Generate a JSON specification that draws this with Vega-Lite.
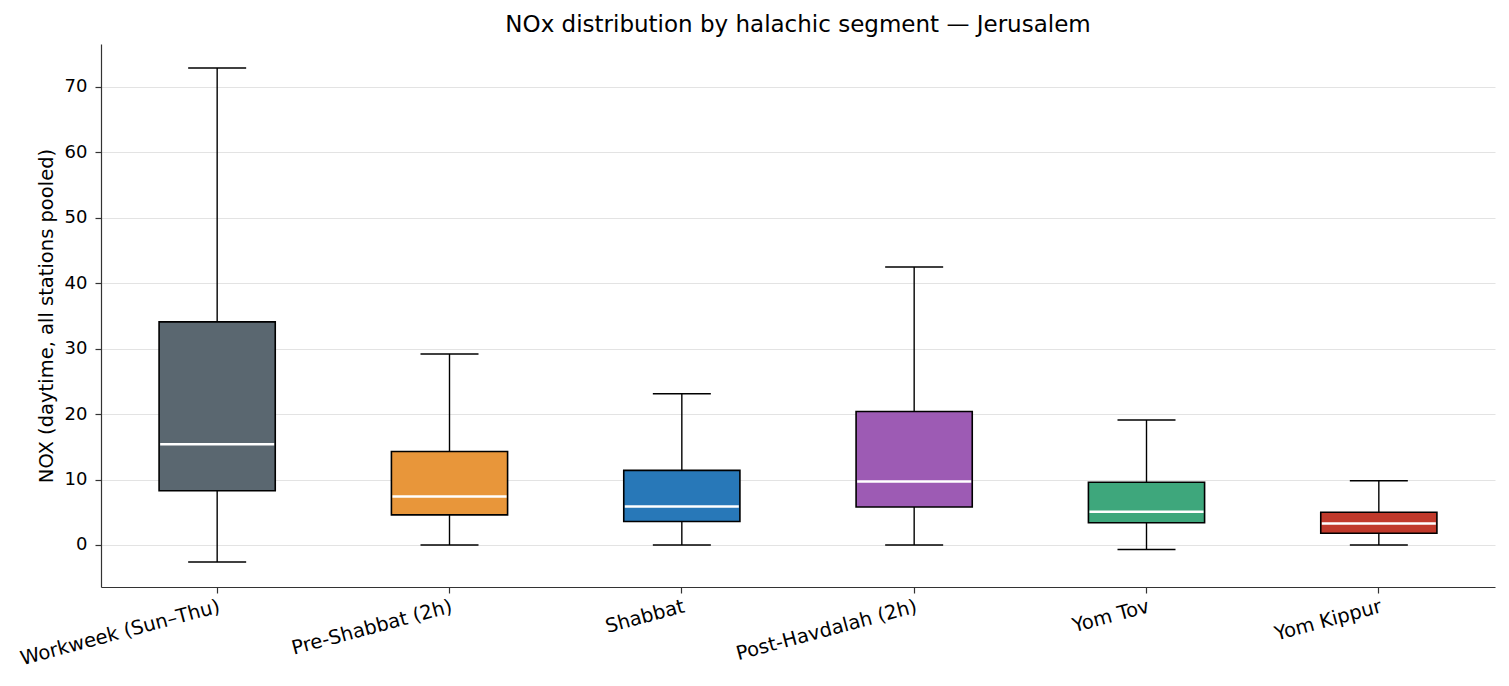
{
  "$schema": "https://vega.github.io/schema/vega-lite/v6.json",
  "autosize": "none",
  "width": 1394,
  "height": 543,
  "padding": {"left": 101, "top": 44, "right": 14, "bottom": 99},
  "background": "white",
  "title": {
    "text": "NOx distribution by halachic segment — Jerusalem",
    "font": "DejaVu Sans",
    "fontSize": 23,
    "fontWeight": "normal",
    "color": "#000000",
    "anchor": "middle",
    "offset": 7
  },
  "config": {
    "font": "DejaVu Sans",
    "view": {"stroke": null},
    "axis": {
      "labelFont": "DejaVu Sans",
      "titleFont": "DejaVu Sans",
      "labelFontSize": 19,
      "titleFontSize": 19.5,
      "labelColor": "#000000",
      "titleColor": "#000000",
      "titleFontWeight": "normal",
      "labelLimit": 0,
      "domainColor": "#333333",
      "domainWidth": 1.2,
      "tickColor": "#333333",
      "tickSize": 6,
      "tickWidth": 1.2
    }
  },
  "data": {
    "values": [
      {"segment": "Workweek (Sun–Thu)", "lo": -2.6, "q1": 8.3, "median": 15.4, "q3": 34.1, "hi": 72.9},
      {"segment": "Pre-Shabbat (2h)", "lo": 0.0, "q1": 4.6, "median": 7.4, "q3": 14.3, "hi": 29.2},
      {"segment": "Shabbat", "lo": 0.0, "q1": 3.6, "median": 5.9, "q3": 11.4, "hi": 23.1},
      {"segment": "Post-Havdalah (2h)", "lo": 0.0, "q1": 5.8, "median": 9.7, "q3": 20.4, "hi": 42.5},
      {"segment": "Yom Tov", "lo": -0.7, "q1": 3.4, "median": 5.1, "q3": 9.6, "hi": 19.1},
      {"segment": "Yom Kippur", "lo": 0.0, "q1": 1.8, "median": 3.3, "q3": 5.0, "hi": 9.8}
    ]
  },
  "encoding": {
    "x": {
      "field": "segment",
      "type": "nominal",
      "sort": null,
      "scale": {"paddingInner": 0, "paddingOuter": 0},
      "axis": {
        "title": null,
        "labelAngle": -15,
        "labelAlign": "right",
        "labelBaseline": "top",
        "labelFontSize": 19.5,
        "labelPadding": 4,
        "labelDx": -4,
        "labelDy": 1,
        "grid": false
      }
    }
  },
  "layer": [
    {
      "mark": {"type": "rule", "color": "#000000", "strokeWidth": 1.4},
      "encoding": {
        "y": {
          "field": "lo",
          "type": "quantitative",
          "scale": {"domain": [-6.42, 76.57], "nice": false, "zero": false},
          "axis": {
            "title": "NOX (daytime, all stations pooled)",
            "values": [0, 10, 20, 30, 40, 50, 60, 70],
            "labelFontSize": 18,
            "grid": true,
            "gridColor": "#e3e3e3",
            "gridWidth": 1.2,
            "labelPadding": 8,
            "titlePadding": 8
          }
        },
        "y2": {"field": "hi"}
      }
    },
    {
      "mark": {"type": "tick", "color": "#000000", "opacity": 1, "thickness": 1.5, "size": 58, "orient": "horizontal"},
      "encoding": {"y": {"field": "lo", "type": "quantitative"}}
    },
    {
      "mark": {"type": "tick", "color": "#000000", "opacity": 1, "thickness": 1.5, "size": 58, "orient": "horizontal"},
      "encoding": {"y": {"field": "hi", "type": "quantitative"}}
    },
    {
      "mark": {"type": "bar", "stroke": "#000000", "strokeWidth": 1.6, "opacity": 1, "width": {"band": 0.5}},
      "encoding": {
        "y": {"field": "q1", "type": "quantitative"},
        "y2": {"field": "q3"},
        "color": {
          "field": "segment",
          "type": "nominal",
          "sort": null,
          "legend": null,
          "scale": {
            "domain": ["Workweek (Sun–Thu)", "Pre-Shabbat (2h)", "Shabbat", "Post-Havdalah (2h)", "Yom Tov", "Yom Kippur"],
            "range": ["#5a6770", "#e8963a", "#2878b8", "#9d5bb4", "#3ea77c", "#c0392b"]
          }
        }
      }
    },
    {
      "mark": {"type": "tick", "color": "#ffffff", "opacity": 1, "thickness": 2.5, "size": 114, "orient": "horizontal"},
      "encoding": {"y": {"field": "median", "type": "quantitative"}}
    }
  ]
}
